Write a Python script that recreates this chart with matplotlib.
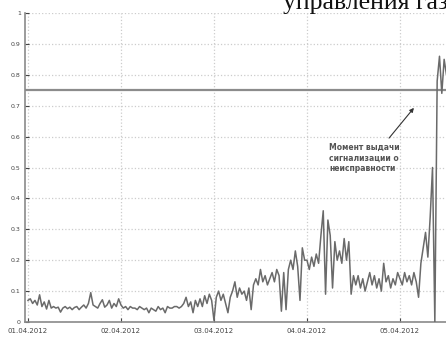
import numpy as np
import matplotlib
matplotlib.use("Agg")
import matplotlib.pyplot as plt
from matplotlib.patches import Rectangle

# readings, 40 samples per day starting 01.04.2012
day0 = [0.07, 0.075, 0.06, 0.07, 0.055, 0.088, 0.05, 0.065, 0.042, 0.07,
        0.045, 0.05, 0.045, 0.048, 0.032, 0.045, 0.05, 0.043, 0.048, 0.04,
        0.047, 0.05, 0.04, 0.048, 0.055, 0.045, 0.06, 0.095, 0.055, 0.05,
        0.045, 0.06, 0.072, 0.048, 0.055, 0.07, 0.045, 0.06, 0.05, 0.075]
day1 = [0.055, 0.045, 0.05, 0.04, 0.05, 0.045, 0.045, 0.04, 0.05, 0.045,
        0.04, 0.045, 0.03, 0.045, 0.04, 0.035, 0.05, 0.04, 0.045, 0.03,
        0.05, 0.045, 0.045, 0.05, 0.05, 0.045, 0.05, 0.06, 0.08, 0.05,
        0.065, 0.03, 0.07, 0.05, 0.075, 0.05, 0.085, 0.06, 0.09, 0.07]
day2 = [0.005, 0.08, 0.1, 0.07, 0.09, 0.06, 0.03, 0.08, 0.1, 0.13,
        0.08, 0.11, 0.09, 0.1, 0.07, 0.11, 0.04, 0.12, 0.14, 0.12,
        0.17, 0.13, 0.15, 0.12, 0.14, 0.16, 0.13, 0.17, 0.15, 0.035,
        0.16, 0.04, 0.17, 0.2, 0.17, 0.23, 0.18, 0.07, 0.24, 0.2]
day3 = [0.2, 0.17, 0.21, 0.18, 0.22, 0.19, 0.28, 0.36, 0.09, 0.33,
        0.28, 0.11, 0.26, 0.2, 0.23, 0.19, 0.27, 0.2, 0.26, 0.09,
        0.15, 0.12, 0.15, 0.11, 0.14, 0.1, 0.13, 0.16, 0.12, 0.15,
        0.11, 0.14, 0.1, 0.19, 0.13, 0.15, 0.11, 0.14, 0.12, 0.16]
day4 = [0.14, 0.12, 0.16, 0.13, 0.15, 0.12, 0.16, 0.13, 0.08, 0.19,
        0.24, 0.29, 0.21, 0.34, 0.5, 0.0, 0.78, 0.86, 0.74, 0.85, 0.8]

values = day0 + day1 + day2 + day3 + day4
days = np.arange(len(values)) / 40.0

date_labels = ["01.04.2012", "02.04.2012", "03.04.2012", "04.04.2012", "05.04.2012"]
threshold = 0.75

fig = plt.figure(figsize=(4.46, 3.38), dpi=100)
ax = fig.add_axes([25 / 446, 16 / 338, 421 / 446, 309 / 338])

ax.set_xlim(-0.032, 4.495)
ax.set_ylim(0, 1)

ax.grid(True, color="#cccccc", linestyle=":", linewidth=0.9, zorder=0)
# blank area behind the note
ax.add_patch(Rectangle((3.16, 0.45), 1.11, 0.26, facecolor="white",
                       edgecolor="none", zorder=1))

ax.axhline(threshold, color="#8c8c8c", linewidth=1.6, zorder=2)
ax.plot(days, values, color="#6a6a6a", linewidth=1.1, zorder=3)

ax.set_xticks(range(len(date_labels)))
ax.set_xticklabels(date_labels)
ax.set_yticks(np.arange(0, 1.01, 0.1))
ax.set_yticklabels(["0", "0.1", "0.2", "0.3", "0.4", "0.5", "0.6", "0.7",
                    "0.8", "0.9", "1"])
ax.tick_params(axis="x", labelsize=5, colors="#444444", direction="in",
               length=3, pad=4)
ax.tick_params(axis="y", labelsize=4.5, colors="#444444", direction="in",
               length=3, pad=3)

for s in ["top", "right"]:
    ax.spines[s].set_visible(False)
for s in ["left", "bottom"]:
    ax.spines[s].set_color("#8a8a8a")
    ax.spines[s].set_linewidth(1.2)

ax.annotate("Момент выдачи\nсигнализации о\nнеисправности",
            xy=(4.15, 0.693), xytext=(3.237, 0.531),
            fontsize=5.5, fontweight="bold", color="#555555",
            va="center", ha="left", linespacing=1.25,
            arrowprops=dict(arrowstyle="-|>", color="#333333", lw=0.8,
                            shrinkA=0, shrinkB=0, mutation_scale=6,
                            relpos=(0.85, 1.15)),
            zorder=4)

fig.text(283 / 446, 1 - 9 / 338, "управления газом", family="Liberation Serif",
         fontsize=18.5, va="baseline", ha="left", color="#111111")

fig.savefig("out.png", dpi=100)
